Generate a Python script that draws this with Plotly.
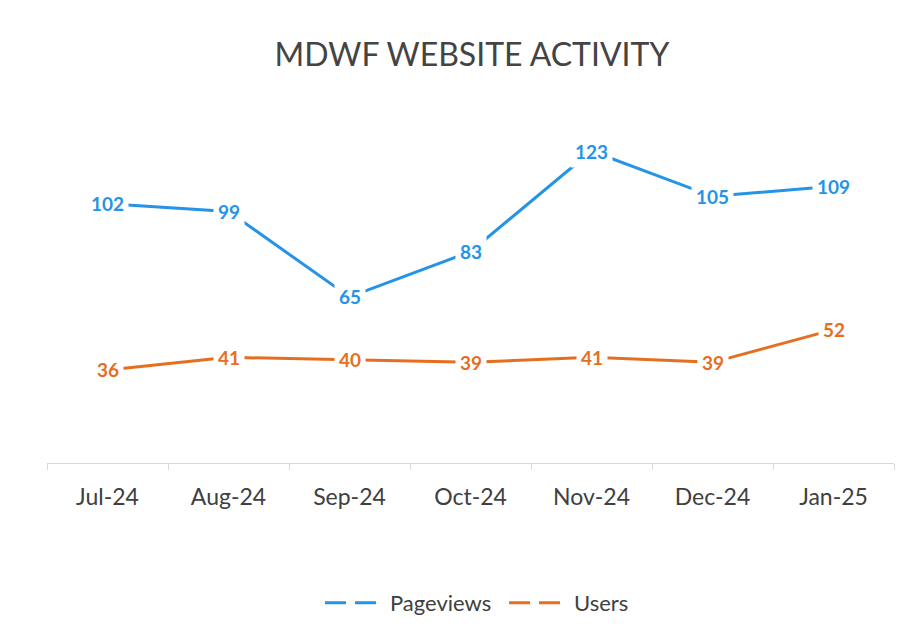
import plotly.graph_objects as go

months = ["Jul-24", "Aug-24", "Sep-24", "Oct-24", "Nov-24", "Dec-24", "Jan-25"]
pageviews = [102, 99, 65, 83, 123, 105, 109]
users = [36, 41, 40, 39, 41, 39, 52]

BLUE = "#2593E6"
ORANGE = "#E56F1F"
FONT = "Lato, 'Open Sans', sans-serif"

W, H = 901, 622  # page body has an 8px margin

fig = go.Figure()
for name, vals, col in [("Pageviews", pageviews, BLUE), ("Users", users, ORANGE)]:
    fig.add_trace(go.Scatter(x=months, y=vals, mode="lines", name=name,
                             line=dict(color=col, width=3), showlegend=False,
                             hoverinfo="skip"))
    fig.add_trace(go.Scatter(x=[None], y=[None], mode="lines", name=name,
                             line=dict(color=col, width=3, dash="21px,9px"),
                             showlegend=True))
    for m, v in zip(months, vals):
        fig.add_annotation(x=m, y=v, xref="x", yref="y", text=f"<b>{v}</b>",
                           showarrow=False, bgcolor="white", borderpad=4,
                           font=dict(family=FONT, size=19, color=col))

fig.update_layout(
    width=W, height=H,
    margin=dict(l=39, r=15, t=104, b=167, autoexpand=False),
    paper_bgcolor="white", plot_bgcolor="white",
    title=dict(text="MDWF WEBSITE ACTIVITY", x=(472 - 8) / W, xanchor="center",
               y=1 - 47 / H, yanchor="middle",
               font=dict(family=FONT, size=32, color="#444444")),
    xaxis=dict(type="category", showline=True, linecolor="#d9d9d9", linewidth=1,
               ticks="outside", tickson="boundaries", ticklen=6, tickcolor="#d9d9d9",
               showgrid=False, ticklabelstandoff=13, automargin=False,
               tickfont=dict(family=FONT, size=23, color="#404040"),
               range=[-0.5, 6.5]),
    yaxis=dict(range=[-1.0, 138.5], visible=False, showgrid=False, zeroline=False,
               automargin=False),
    legend=dict(orientation="h", xref="container", yref="container",
                x=312 / W, xanchor="left", y=1 - 595 / H, yanchor="middle",
                entrywidth=109, itemwidth=60,
                font=dict(family=FONT, size=22, color="#404040")),
    showlegend=True,
)

fig.write_html("out.html")
